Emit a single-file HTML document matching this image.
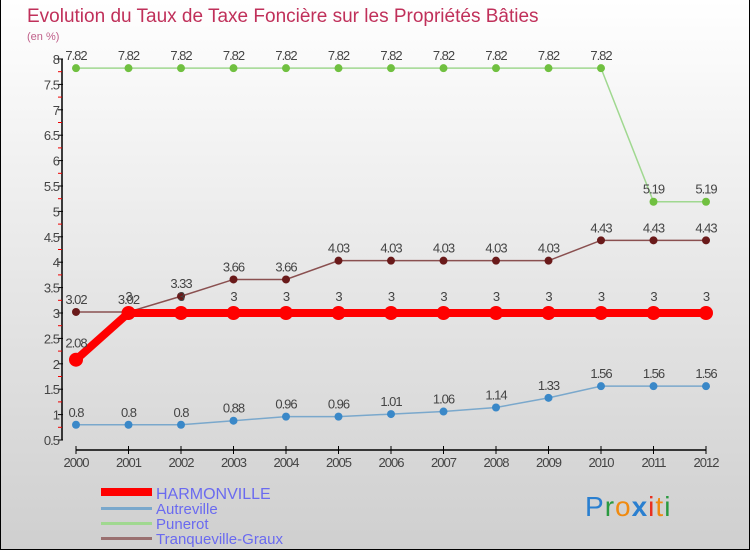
<!DOCTYPE html>
<html><head><meta charset="utf-8"><style>
body{margin:0}
#c{width:750px;height:550px;position:relative;box-sizing:border-box;border:1px solid #000;border-top:none;background:linear-gradient(#ffffff,#cfcfcf);overflow:hidden;font-family:"Liberation Sans",sans-serif}
</style></head><body>
<div id="c">
<svg id="s" width="750" height="550" style="position:absolute;left:0;top:0" font-family="Liberation Sans, sans-serif">
<text x="26" y="22" font-size="19" fill="#c0305a">Evolution du Taux de Taxe Foncière sur les Propriétés Bâties</text>
<text x="26" y="40" font-size="11" fill="#c0608a">(en %)</text>
<g id="axes"></g><g id="series"></g>
<g>
<rect x="100" y="488" width="51" height="8" fill="#f00"/>
<text x="155" y="499" font-size="16" fill="#6a6af0">HARMONVILLE</text>
<rect x="100" y="507" width="51" height="3" fill="#7aa8cc"/>
<text x="155" y="514" font-size="15" fill="#6a6af0">Autreville</text>
<rect x="100" y="522" width="51" height="3" fill="#a0d890"/>
<text x="155" y="529" font-size="15" fill="#6a6af0">Punerot</text>
<rect x="100" y="537" width="51" height="3" fill="#9a7070"/>
<text x="155" y="544" font-size="15" fill="#6a6af0">Tranqueville-Graux</text>
</g>
<g font-size="28" font-family="Liberation Sans,sans-serif">
<text x="584" y="516" letter-spacing="1"><tspan fill="#2a7fd0">P</tspan><tspan fill="#2a9a40">r</tspan><tspan fill="#f08a10">o</tspan><tspan fill="#2a7fd0" font-weight="bold">x</tspan><tspan fill="#e83020">i</tspan><tspan fill="#f08a10">t</tspan><tspan fill="#2a9a40">i</tspan></text>
</g>
</svg>
</div>
<script>
const years=[2000,2001,2002,2003,2004,2005,2006,2007,2008,2009,2010,2011,2012];
const harmonville=[2.08,3,3,3,3,3,3,3,3,3,3,3,3];
const autreville=[0.8,0.8,0.8,0.88,0.96,0.96,1.01,1.06,1.14,1.33,1.56,1.56,1.56];
const punerot=[7.82,7.82,7.82,7.82,7.82,7.82,7.82,7.82,7.82,7.82,7.82,5.19,5.19];
const tranqueville=[3.02,3.02,3.33,3.66,3.66,4.03,4.03,4.03,4.03,4.03,4.43,4.43,4.43];
const yTicks=[0.5,1,1.5,2,2.5,3,3.5,4,4.5,5,5.5,6,6.5,7,7.5,8];
const NS="http://www.w3.org/2000/svg";
const x=i=>75+i*(705-75)/(years.length-1);
const y=v=>440-(v-0.5)*(440-59)/7.5;
function mk(t,a,p){const e=document.createElementNS(NS,t);for(const k in a)e.setAttribute(k,a[k]);p.appendChild(e);return e;}
const ax=document.getElementById('axes');
let l=mk('line',{x1:61,y1:y(8),x2:61,y2:y(0.5),stroke:'#000','stroke-width':1.5},ax);


yTicks.forEach(v=>{
 const t=mk('line',{x1:57,y1:y(v),x2:62,y2:y(v),stroke:'#000'},ax);
 
 
 const m=mk('line',{x1:57,y1:y(v+0.25),x2:61,y2:y(v+0.25),stroke:'#e00'},ax);
 if(v>=8)m.remove();
 
 
 const tx=mk('text',{x:58,y:y(v)+5,'font-size':13,fill:'#444','text-anchor':'end','letter-spacing':'-1'},ax);
 tx.textContent=String(v);
 
 
});
l=mk('line',{x1:75,y1:450,x2:705,y2:450,stroke:'#000','stroke-width':1.5},ax);


years.forEach((yr,i)=>{
 const t=mk('line',{x1:x(i),y1:446,x2:x(i),y2:454,stroke:'#000'},ax);
 
 
 const tx=mk('text',{x:x(i),y:467,'font-size':13,fill:'#444','text-anchor':'middle','letter-spacing':'-1'},ax);
 tx.textContent=yr;
 
 
});
const sg=document.getElementById('series');
function series(name,vals,col,dot,w,r){
 const g=mk('g',{},sg);
 
 
 const p=mk('polyline',{points:vals.map((v,i)=>x(i)+','+y(v)).join(' '),fill:'none',stroke:col,'stroke-width':w},g);
 
 
 vals.forEach((v,i)=>{
  const c=mk('circle',{cx:x(i),cy:y(v),r:r,fill:dot},g);
  
  
  const t=mk('text',{x:x(i),y:y(v)-8-(r>5?4:0),'font-size':13,fill:'#444','text-anchor':'middle','letter-spacing':'-1'},g);
  t.textContent=String(v);
  
  
 });
}
series('punerot',punerot,'#a0d890','#70c040',1.5,4);
series('tranqueville-graux',tranqueville,'#8a5050','#6a1a1a',1.5,4);
series('autreville',autreville,'#7aa8cc','#3a88c8',1.5,4);
series('harmonville',harmonville,'#f00','#f00',8,7);
</script>
</body></html>
